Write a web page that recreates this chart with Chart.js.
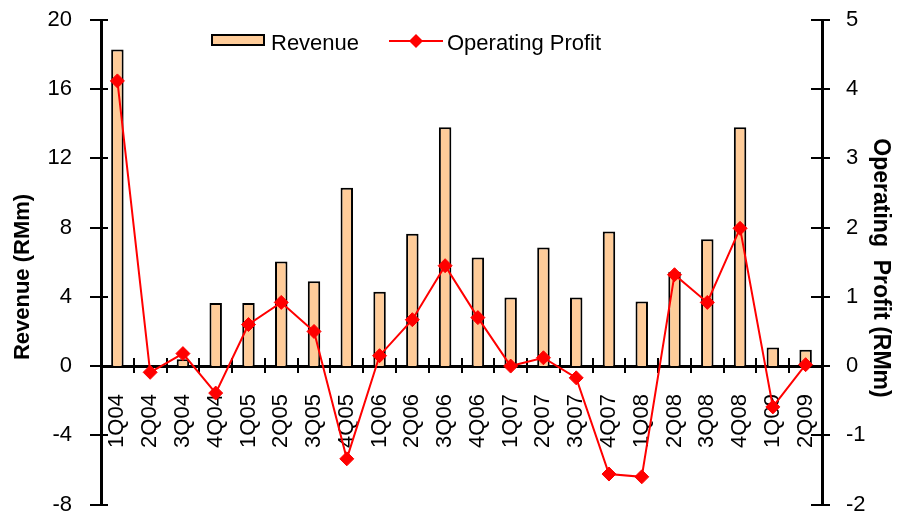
<!DOCTYPE html>
<html><head><meta charset="utf-8">
<script src="https://cdn.jsdelivr.net/npm/chart.js@4.4.1/dist/chart.umd.min.js"></script>
<style>html,body{margin:0;padding:0;background:#fff}#wrap{width:899px;height:519px}</style>
</head><body><div id="wrap"><canvas id="c" width="899" height="519"></canvas></div>
<script>
const categories = ['1Q04','2Q04','3Q04','4Q04','1Q05','2Q05','3Q05','4Q05','1Q06','2Q06','3Q06','4Q06','1Q07','2Q07','3Q07','4Q07','1Q08','2Q08','3Q08','4Q08','1Q09','2Q09'];
const revenue = [18.3, 0, 0.4, 3.65, 3.65, 6.05, 4.9, 10.3, 4.3, 7.65, 13.8, 6.28, 3.97, 6.85, 3.97, 7.78, 3.73, 5.45, 7.33, 13.8, 1.07, 0.95];
const operatingProfit = [4.12, -0.09, 0.18, -0.39, 0.6, 0.92, 0.5, -1.34, 0.15, 0.67, 1.45, 0.70, 0.0, 0.12, -0.17, -1.56, -1.6, 1.32, 0.92, 1.99, -0.59, 0.02];
const revenueTicks = [-8, -4, 0, 4, 8, 12, 16, 20];
const profitTicks = [-2, -1, 0, 1, 2, 3, 4, 5];
const leftTitle = 'Revenue (RMm)';
const rightTitle = 'Operating  Profit (RMm)';

const FONT = "'Liberation Sans', Arial, sans-serif";
Chart.defaults.font.family = FONT;
Chart.defaults.font.size = 22;
Chart.defaults.color = '#000';

const decor = {
  id: 'decor',
  beforeDatasetsDraw(chart) {
    const ctx = chart.ctx;
    const x = chart.scales.x, y = chart.scales.y, y1 = chart.scales.y1;
    ctx.save();
    ctx.strokeStyle = '#000';
    ctx.lineWidth = 2;
    ctx.beginPath();
    y.ticks.forEach(t => {
      const py = Math.round(y.getPixelForValue(t.value));
      ctx.moveTo(y.right - 11, py); ctx.lineTo(y.right + 7, py);
    });
    y1.ticks.forEach(t => {
      const py = Math.round(y1.getPixelForValue(t.value));
      ctx.moveTo(y1.left - 11, py); ctx.lineTo(y1.left + 8, py);
    });
    const zy = y.getPixelForValue(0);
    for (let i = 1; i < categories.length; i++) {
      const px = Math.round(x.getPixelForValue(i - 0.5));
      ctx.moveTo(px, zy - 8); ctx.lineTo(px, zy + 7);
    }
    ctx.stroke();
    ctx.restore();
  },
  afterDraw(chart) {
    const ctx = chart.ctx;
    const ds = chart.data.datasets;
    const bar = ds.find(d => d.type === 'bar');
    const line = ds.find(d => d.type === 'line');
    ctx.save();
    // titles
    ctx.fillStyle = '#000';
    ctx.textAlign = 'center';
    ctx.textBaseline = 'middle';
    ctx.font = 'bold 22px ' + FONT;
    ctx.save(); ctx.translate(23, 277); ctx.rotate(-Math.PI / 2); ctx.fillText(leftTitle, 0, 0); ctx.restore();
    ctx.font = 'bold 23px ' + FONT;
    ctx.save(); ctx.translate(880, 268); ctx.rotate(Math.PI / 2); ctx.fillText(rightTitle, 0, 0); ctx.restore();
    // legend
    ctx.font = '22px ' + FONT;
    ctx.textAlign = 'left';
    ctx.textBaseline = 'alphabetic';
    ctx.fillStyle = bar.backgroundColor;
    ctx.fillRect(212, 35, 52, 10);
    ctx.strokeStyle = '#000'; ctx.lineWidth = 2;
    ctx.strokeRect(212, 35, 52, 10);
    ctx.fillStyle = '#000';
    ctx.fillText(bar.label, 271, 50);
    ctx.strokeStyle = line.borderColor; ctx.lineWidth = 2;
    ctx.beginPath(); ctx.moveTo(389, 41); ctx.lineTo(443, 41); ctx.stroke();
    ctx.fillStyle = line.pointBackgroundColor;
    ctx.beginPath(); ctx.moveTo(416, 34); ctx.lineTo(423, 41); ctx.lineTo(416, 48); ctx.lineTo(409, 41); ctx.closePath(); ctx.fill();
    ctx.fillStyle = '#000';
    ctx.fillText(line.label, 447, 50);
    ctx.restore();
  }
};

new Chart(document.getElementById('c'), {
  data: {
    labels: categories,
    datasets: [
      {
        type: 'bar', label: 'Revenue', data: revenue, yAxisID: 'y', order: 2,
        backgroundColor: '#FFCC99', borderColor: '#000', borderWidth: 2,
        categoryPercentage: 1, barPercentage: 0.38
      },
      {
        type: 'line', label: 'Operating Profit', data: operatingProfit, yAxisID: 'y1', order: 1,
        borderColor: '#FF0000', borderWidth: 2, pointStyle: 'rectRot', pointRadius: 7,
        pointBackgroundColor: '#FF0000', pointBorderColor: '#FF0000', pointBorderWidth: 1, tension: 0
      }
    ]
  },
  options: {
    responsive: false, animation: false, devicePixelRatio: 1,
    layout: { padding: { top: 20, bottom: 14.5, left: 0, right: 0 } },
    plugins: { legend: { display: false }, tooltip: { enabled: false } },
    scales: {
      x: {
        position: { y: 0 },
        offset: true,
        afterFit: s => { s.paddingTop = 0; s.paddingBottom = 0; },
        grid: { display: false, drawTicks: false },
        border: { display: true, color: '#000', width: 3 },
        ticks: { minRotation: 90, maxRotation: 90, autoSkip: false, padding: 28, font: { size: 22 } }
      },
      y: {
        position: 'left', min: -8, max: 20,
        afterBuildTicks: s => { s.ticks = revenueTicks.map(v => ({ value: v })); },
        afterFit: s => { s.width = 101; s.paddingTop = 0; s.paddingBottom = 0; },
        grid: { display: false, drawTicks: false },
        border: { display: true, color: '#000', width: 3 },
        ticks: { padding: 29, font: { size: 22 } }
      },
      y1: {
        position: 'right', min: -2, max: 5,
        afterBuildTicks: s => { s.ticks = profitTicks.map(v => ({ value: v })); },
        afterFit: s => { s.width = 77; s.paddingTop = 0; s.paddingBottom = 0; },
        grid: { display: false, drawTicks: false },
        border: { display: true, color: '#000', width: 3 },
        ticks: { padding: 24, font: { size: 22 } }
      }
    }
  },
  plugins: [decor]
});
</script></body></html>
